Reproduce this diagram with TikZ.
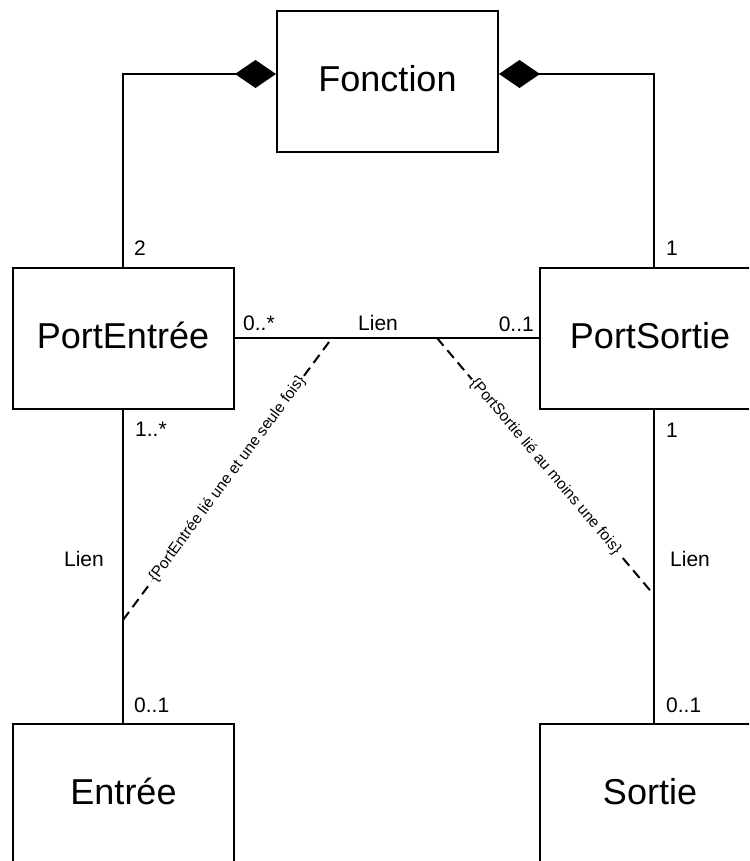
\documentclass[tikz,border=0pt]{standalone}
\usepackage{fontspec}
\setmainfont{Liberation Sans}
\usetikzlibrary{arrows.meta}
\begin{document}
\begin{tikzpicture}[x=1pt,y=-1pt,
  cls/.style={draw=black, line width=2pt, fill=white, minimum width=221pt, minimum height=141pt,
    inner sep=0pt, font=\fontsize{36}{40}\selectfont, text height=26pt, text depth=6pt},
  assoc/.style={line width=2pt, black},
  comp/.style={assoc, -{Diamond[length=41pt,width=28pt,line width=0pt]}},
  dline/.style={line width=2pt, dash pattern=on 10pt off 6pt},
  mult/.style={font=\fontsize{21}{25}\selectfont, inner sep=0pt},
  cstr/.style={font=\fontsize{15.5}{18}\selectfont, fill=white, inner sep=1.5pt, sloped}]
\useasboundingbox (0,0) rectangle (749,861);
\clip (0,0) rectangle (749,861);
% classes
\node[cls] (fonction) at (387.5,81.5) {Fonction};
\node[cls] (pe) at (123,338) {PortEntrée};
\node[cls] (ps) at (650,338) {PortSortie};
\node[cls] (en) at (123.5,794) {Entrée};
\node[cls] (so) at (650,794) {Sortie};
% compositions
\draw[comp] (pe.north) |- ([yshift=7.5pt]fonction.west);
\draw[comp] ([xshift=4pt]ps.north) |- ([yshift=7.5pt]fonction.east);
% associations
\draw[assoc] (pe.east) -- (ps.west);
\draw[assoc] (pe.south) -- (pe.south |- en.north);
\draw[assoc] ([xshift=4pt]ps.south) -- ([xshift=4pt]ps.south |- so.north);
% constraint anchors
\coordinate (a1) at (332,338);
\coordinate (b1) at (123,620);
\coordinate (a2) at (437,338);
\coordinate (b2) at (654,595);
\draw[dline] (b1) -- node[cstr] {\{PortEntrée lié une et une seule fois\}} (a1);
\draw[dline] (a2) -- node[cstr] {\{PortSortie lié au moins une fois\}} (b2);
% multiplicities and role names
\node[mult, anchor=base west] (m2) at (134,255) {2};
\node[mult, anchor=base west] (m1) at (666,255) {1};
\node[mult, anchor=base west] (m0s) at (243,330) {0..*};
\node[mult, anchor=base west] (l1) at (358,330) {Lien};
\node[mult, anchor=base east] (m01a) at (534,331) {0..1};
\node[mult, anchor=base west] (m1s) at (135,436) {1..*};
\node[mult, anchor=base west] (m1b) at (666,437) {1};
\node[mult, anchor=base east] (l2) at (104,566) {Lien};
\node[mult, anchor=base west] (l3) at (670,566) {Lien};
\node[mult, anchor=base west] (m01b) at (134,712) {0..1};
\node[mult, anchor=base west] (m01c) at (666,712) {0..1};
\end{tikzpicture}
\end{document}
